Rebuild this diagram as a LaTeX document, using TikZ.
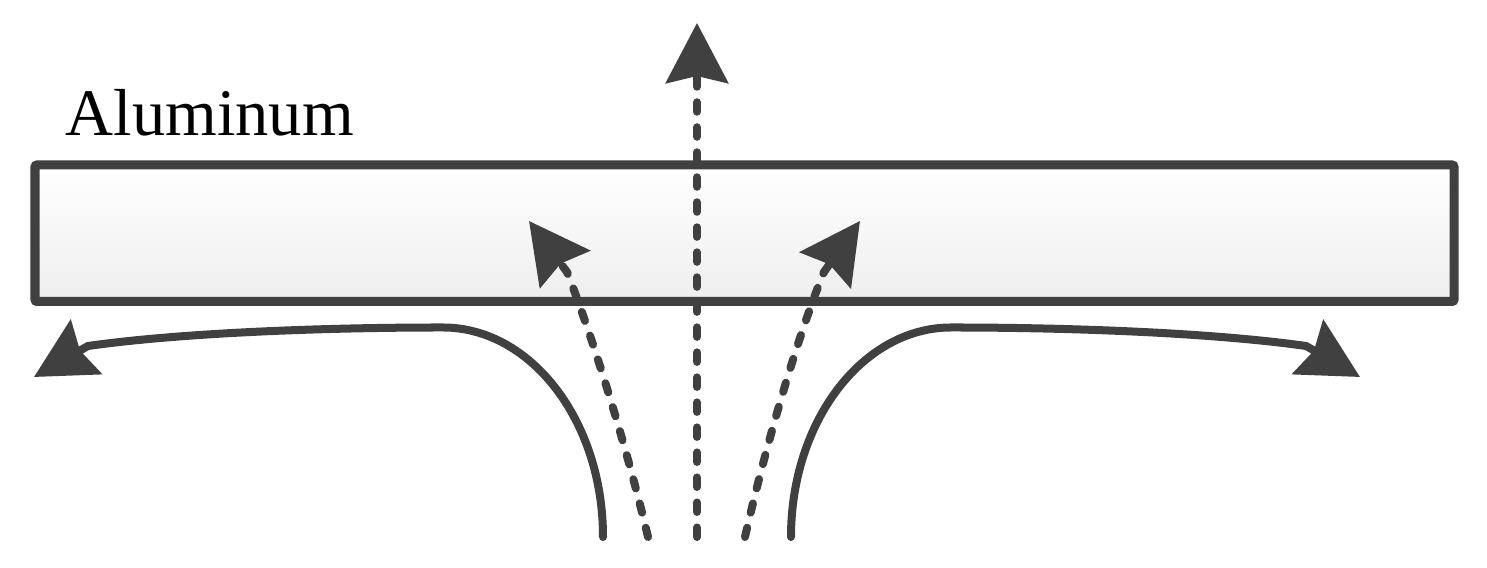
\documentclass[tikz,border=0pt]{standalone}
\usepackage{fontspec}
\setmainfont{Liberation Serif}
\usetikzlibrary{arrows.meta}
\definecolor{ink}{RGB}{64,64,64}
\definecolor{platebot}{RGB}{238,238,238}
\tikzset{
  flow/.style={draw=ink, line width=0.08cm, line cap=round,
    -{Stealth[length=0.6cm, width=0.62cm, inset=0.07cm]}},
  dashflow/.style={flow, dash pattern=on 0.095cm off 0.155cm},
  plate/.style={draw=ink, line width=0.09cm, rounded corners=0.02cm,
    top color=white, bottom color=platebot},
}
\begin{document}
\begin{tikzpicture}[x=0.01cm, y=-0.01cm]
\useasboundingbox (0,0) rectangle (1487,568);
\path[plate] (35,165) rectangle (1454,301.5);
\node[anchor=base west, inner sep=0pt, font=\fontsize{18.9pt}{22pt}\selectfont] (lbl) at (65,136) {Aluminum};
% solid flows
\draw[flow] (603,537) .. controls (603,421) and (531,327.5) .. (443,327.5)
  .. controls (320,327.5) and (180,333) .. (88,346) -- (34,377);
\draw[flow] (791,537) .. controls (791,421) and (863,327.5) .. (951,327.5)
  .. controls (1074,327.5) and (1214,333) .. (1306,346) -- (1360,377);
% dashed flows
\draw[dashflow] (648,537) .. controls (625,440) and (590,330) .. (567,272) -- (529,221);
\draw[dashflow] (745,537) .. controls (767,440) and (800,330) .. (824,272) -- (860,221);
\draw[dashflow] (697,537) -- (697,23);
\end{tikzpicture}
\end{document}
